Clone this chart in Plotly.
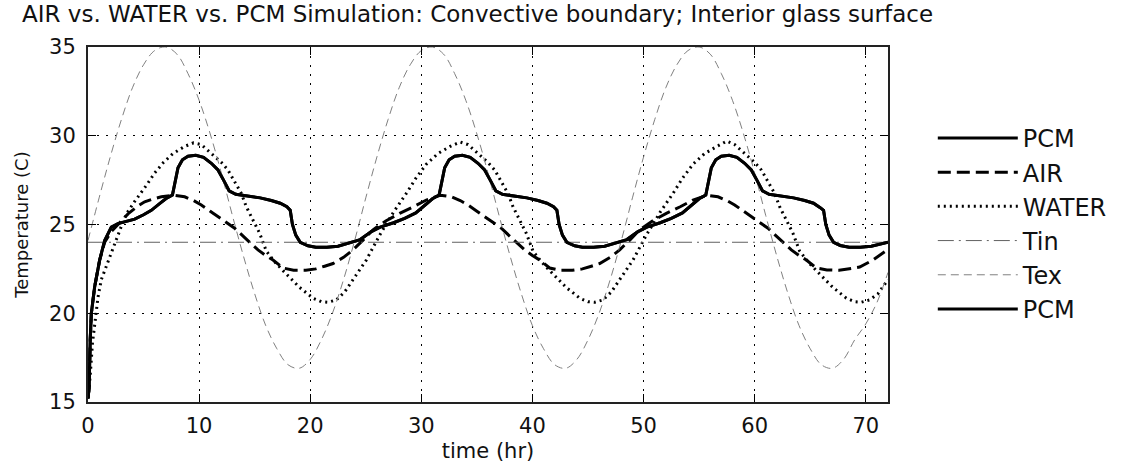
import plotly.graph_objects as go

# ---------------- data ----------------
pcm_t = [0.0, 0.1, 0.2, 0.3, 0.6, 1.05, 1.5, 2.1, 2.7, 3.5, 4.2, 5.0, 5.7, 6.5, 7.0, 7.6,
         7.8, 8.1, 8.5, 9.0, 9.7, 10.4, 11.1, 11.7, 12.2, 12.7, 13.3, 14.5, 15.5, 16.5, 17.3,
         17.9, 18.2, 18.4, 18.7, 19.1, 19.8, 20.5, 21.5, 22.5, 23.5, 24.5, 25.5, 26.3, 27.5,
         28.5, 29.5, 30.5, 31.0, 31.6,
         31.8, 32.1, 32.5, 33.0, 33.7, 34.4, 35.1, 35.7, 36.2, 36.7, 37.3, 38.5, 39.5, 40.5,
         41.3, 41.9, 42.2, 42.4, 42.7, 43.1, 43.8, 44.5, 45.5, 46.5, 47.5, 48.5, 49.5, 50.3,
         51.5, 52.5, 53.5, 54.5, 55.0, 55.6,
         55.8, 56.1, 56.5, 57.0, 57.7, 58.4, 59.1, 59.7, 60.2, 60.7, 61.3, 62.5, 63.5, 64.5,
         65.3, 65.9, 66.2, 66.4, 66.7, 67.1, 67.7, 68.5, 69.5, 70.5, 71.5, 72.0]
pcm_v = [15.2, 15.8, 18.5, 20.0, 21.5, 23.0, 24.1, 24.85, 25.05, 25.2, 25.3, 25.55, 25.8, 26.2, 26.45, 26.66,
         27.3, 28.2, 28.65, 28.85, 28.9, 28.78, 28.45, 28.07, 27.5, 26.9, 26.7, 26.6, 26.5, 26.35, 26.2,
         26.0, 25.8, 25.0, 24.4, 24.0, 23.8, 23.72, 23.72, 23.78, 23.95, 24.15, 24.6, 24.85, 25.1,
         25.35, 25.65, 26.15, 26.45, 26.66,
         27.3, 28.2, 28.65, 28.85, 28.9, 28.78, 28.45, 28.07, 27.5, 26.9, 26.7, 26.6, 26.5, 26.35,
         26.2, 26.0, 25.8, 25.0, 24.4, 24.0, 23.8, 23.72, 23.72, 23.78, 23.95, 24.15, 24.6, 24.85,
         25.1, 25.35, 25.65, 26.15, 26.45, 26.66,
         27.3, 28.2, 28.65, 28.85, 28.9, 28.78, 28.45, 28.07, 27.5, 26.9, 26.7, 26.6, 26.5, 26.35,
         26.2, 25.95, 25.8, 25.0, 24.4, 24.0, 23.82, 23.72, 23.72, 23.78, 23.92, 24.0]

air_t = [0.0, 0.1, 0.2, 0.3, 0.6, 1.05, 1.5, 2.1, 2.7, 3.6, 4.4, 5.1, 5.9, 6.6, 7.7, 8.7, 9.5,
         10.2, 11.0, 11.7, 12.5, 13.2, 14.2, 15.3, 16.0, 16.65, 17.55, 18.5, 19.6, 20.5, 21.3,
         22.05, 23.0, 23.85, 24.8, 25.65, 26.8, 28.05, 29.3, 30.45, 31.7,
         32.7, 33.5, 34.2, 35.0, 35.7, 36.5, 37.2, 38.2, 39.3, 40.0, 40.65, 41.55, 42.5, 43.6,
         44.5, 45.3, 46.05, 47.0, 47.85, 48.8, 49.65, 50.8, 52.05, 53.3, 54.45, 55.7,
         56.7, 57.5, 58.2, 59.0, 59.7, 60.5, 61.2, 62.2, 63.3, 64.0, 64.65, 65.55, 66.5, 67.6,
         68.5, 69.45, 70.65, 71.3, 72.0]
air_v = [15.2, 15.8, 18.5, 20.0, 21.5, 23.0, 24.0, 24.6, 25.0, 25.6, 26.0, 26.28, 26.45, 26.56, 26.65, 26.56, 26.35,
         26.1, 25.75, 25.44, 25.1, 24.79, 24.2, 23.57, 23.25, 23.0, 22.55, 22.42, 22.42, 22.5, 22.65,
         22.8, 23.15, 23.57, 24.15, 24.7, 25.2, 25.63, 26.0, 26.38, 26.65,
         26.56, 26.35, 26.1, 25.75, 25.44, 25.1, 24.79, 24.2, 23.57, 23.25, 23.0, 22.55, 22.42, 22.42,
         22.5, 22.65, 22.8, 23.15, 23.57, 24.15, 24.7, 25.2, 25.63, 26.0, 26.38, 26.65,
         26.56, 26.35, 26.1, 25.75, 25.44, 25.1, 24.79, 24.2, 23.57, 23.25, 23.0, 22.55, 22.44, 22.42,
         22.5, 22.6, 23.0, 23.3, 23.6]

water_t = [0.0, 0.2, 0.4, 0.6, 0.9, 1.2, 1.5, 1.8, 2.4, 3.0, 3.45, 4.2, 5.25, 6.0, 6.8, 7.65,
           8.7, 9.5, 10.2, 11.1, 12.0, 12.6, 13.2, 13.8, 14.25, 14.85, 15.45, 16.05, 16.8, 17.55,
           18.3, 19.05, 20.25, 21.0, 21.6, 22.35, 23.1, 23.85, 24.5, 25.05, 26.25, 27.5, 28.65,
           29.5, 30.45, 31.5, 32.6, 33.5, 34.2, 35.1, 36.0, 36.6, 37.2, 37.8, 38.25, 38.85, 39.45,
           40.05, 40.8, 41.55, 42.3, 43.05, 44.25, 45.0, 45.6, 46.35, 47.1, 47.85, 48.5, 49.05,
           50.25, 51.5, 52.65, 53.5, 54.45, 55.5, 56.6, 57.5, 58.2, 59.1, 60.0, 60.6, 61.2, 61.8,
           62.25, 62.85, 63.45, 64.05, 64.8, 65.55, 66.3, 67.05, 68.25, 69.0, 69.6, 70.35, 71.1, 72.0]
water_v = [15.2, 16.5, 18.3, 19.4, 20.9, 21.9, 22.4, 23.0, 24.0, 24.9, 25.6, 26.3, 27.2, 27.9, 28.5, 29.0,
           29.4, 29.6, 29.5, 29.0, 28.5, 28.07, 27.4, 26.75, 26.0, 25.25, 24.5, 23.5, 22.9, 22.4,
           21.9, 21.45, 20.85, 20.65, 20.62, 20.75, 21.2, 21.88, 22.5, 23.0, 24.4, 25.7, 26.75,
           27.6, 28.4, 29.0, 29.4, 29.65, 29.5, 29.0, 28.5, 28.07, 27.4, 26.75, 26.0, 25.25, 24.5,
           23.5, 22.9, 22.4, 21.9, 21.45, 20.85, 20.65, 20.62, 20.75, 21.2, 21.88, 22.5, 23.0,
           24.4, 25.7, 26.75, 27.6, 28.4, 29.0, 29.4, 29.7, 29.5, 29.0, 28.5, 28.07, 27.4, 26.75,
           26.0, 25.25, 24.5, 23.5, 22.9, 22.4, 21.9, 21.45, 20.85, 20.65, 20.62, 20.75, 21.1, 21.9]

tin_t = [0.0, 72.0]
tin_v = [24.0, 24.0]

tex_t = list(range(0, 73))
tex_v = [24.1, 26.5, 28.8, 30.9, 32.7, 34.0, 34.8, 35.0, 34.6, 33.5, 32.0, 30.1, 27.9, 25.5, 23.2, 21.1,
         19.3, 18.0, 17.1, 16.9, 17.4, 18.5, 20.0, 21.9,
         24.1, 26.5, 28.8, 30.9, 32.7, 34.0, 34.8, 35.0, 34.6, 33.5, 32.0, 30.1, 27.9, 25.5, 23.2, 21.1,
         19.3, 18.0, 17.1, 16.9, 17.4, 18.5, 20.0, 21.9,
         24.1, 26.5, 28.8, 30.9, 32.7, 34.0, 34.8, 35.0, 34.6, 33.5, 32.0, 30.1, 27.9, 25.5, 23.2, 21.1,
         19.3, 18.0, 17.1, 16.9, 17.4, 18.5, 19.4, 20.6, 22.3]

x_ticks = [0, 10, 20, 30, 40, 50, 60, 70]
y_ticks = [15, 20, 25, 30, 35]

title_text = "AIR vs. WATER vs. PCM Simulation: Convective boundary; Interior glass surface"
x_title = "time (hr)"
y_title = "Temperature (C)"

FONT = "DejaVu Sans, Liberation Sans, sans-serif"
INK = "#111111"

fig = go.Figure()

def add(name, t, v, color, width, dash, group, shape="linear"):
    fig.add_trace(go.Scatter(x=t, y=v, mode="lines", name=name, legendgroup=group,
                             line=dict(color=color, width=width, dash=dash, shape=shape)))

add("PCM", pcm_t, pcm_v, "#000000", 3, "solid", "g1")
add("AIR", air_t, air_v, "#000000", 3, "13px,6px", "g2")
add("WATER", water_t, water_v, "#000000", 3, "2px,4px", "g3")
add("Tin", tin_t, tin_v, "#606060", 1, "16px,5px,2px,5px", "g4")
add("Tex", tex_t, tex_v, "#808080", 1, "8px,5px", "g5", shape="spline")
add("PCM", pcm_t, pcm_v, "#000000", 3, "solid", "g6")

fig.update_layout(
    width=1126, height=470,
    margin=dict(l=88, r=238, t=47, b=68, autoexpand=False),
    paper_bgcolor="white", plot_bgcolor="white",
    font=dict(family=FONT, size=21, color=INK),
    title=dict(text=title_text, x=22 / 1126, xanchor="left", xref="container",
               y=1 - 6 / 470, yanchor="top", yref="container",
               font=dict(family=FONT, size=23, color=INK)),
    showlegend=True,
    legend=dict(x=1.056, xanchor="left", y=0.806, yanchor="top",
                font=dict(family=FONT, size=24, color=INK),
                bgcolor="rgba(0,0,0,0)", borderwidth=0,
                itemwidth=80, traceorder="grouped", tracegroupgap=0),
)

fig.update_xaxes(range=[0, 72], tickvals=x_ticks, ticks="inside", ticklen=8, tickwidth=1,
                 tickcolor="#000", mirror="ticks", showline=True, linewidth=2, linecolor="#222",
                 showgrid=True, gridcolor="#000", gridwidth=1, griddash="2px,7px",
                 zeroline=False, automargin=False, ticklabelstandoff=4,
                 tickfont=dict(family=FONT, size=21, color=INK),
                 title=dict(text=x_title, standoff=6, font=dict(family=FONT, size=21, color=INK)))
fig.update_yaxes(range=[15, 35], tickvals=y_ticks, ticks="inside", ticklen=8, tickwidth=1,
                 tickcolor="#000", mirror="ticks", showline=True, linewidth=2, linecolor="#222",
                 showgrid=True, gridcolor="#000", gridwidth=1, griddash="2px,7px",
                 zeroline=False, automargin=False, ticklabelstandoff=6,
                 tickfont=dict(family=FONT, size=21, color=INK),
                 title=dict(text=y_title, standoff=16, font=dict(family=FONT, size=18, color=INK)))

fig.write_html("out.html", config={"displayModeBar": False},
               post_script="document.body.style.margin='0';")
